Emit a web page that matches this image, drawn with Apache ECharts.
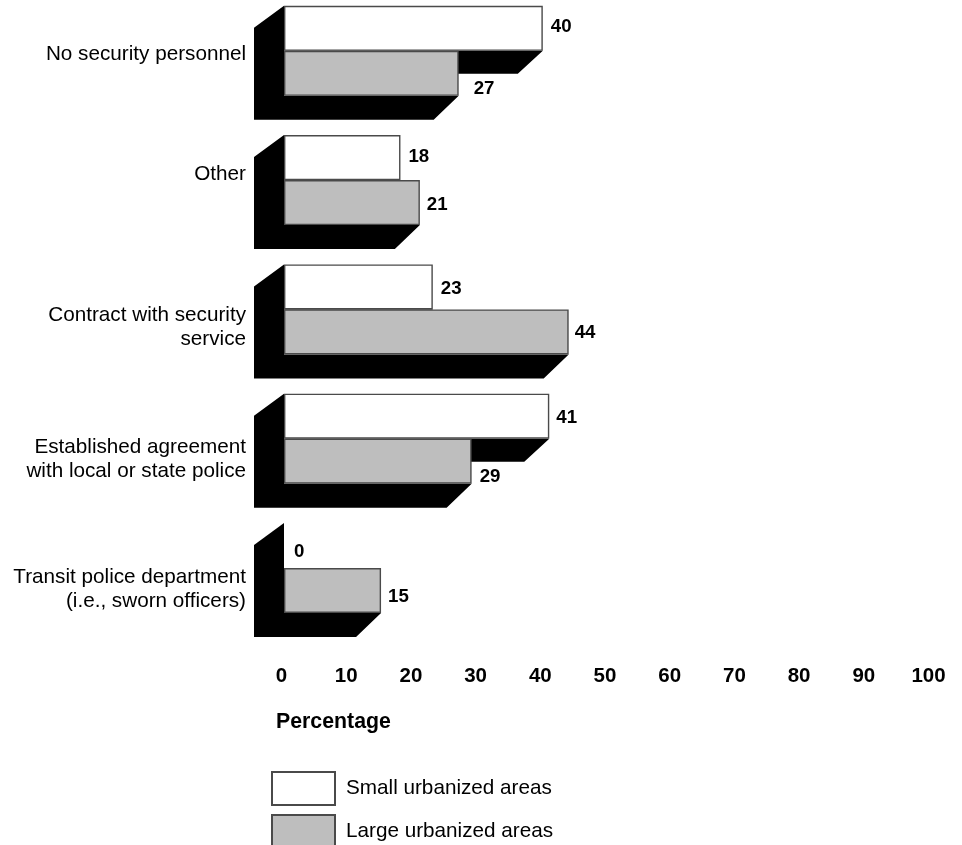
<!DOCTYPE html>
<html>
<head>
<meta charset="utf-8">
<style>html,body{margin:0;padding:0;background:#fff}#c{width:962px;height:845px}</style>
<script src="https://cdn.jsdelivr.net/npm/echarts@6/dist/echarts.min.js"></script>
</head>
<body>
<div id="c"></div>
<script>
const categories = ['No security personnel', 'Other', 'Contract with security\nservice', 'Established agreement\nwith local or state police', 'Transit police department\n(i.e., sworn officers)'];
const smallAreas = [40, 18, 23, 41, 0];
const largeAreas = [27, 21, 44, 29, 15];
const xTicks = [0, 10, 20, 30, 40, 50, 60, 70, 80, 90, 100];

// Style nudges, in pixels
const catLabelShift = [3, -6, 18, 20.5, 21.5];
const smallLabelNudge = [[1, -1], [1, -1], [1, 2], [0, 2], [3, 6]];
const largeLabelNudge = [[8, 16], [0, 2], [-1, 1], [1, 16], [0, 6]];

const FONT = '"Liberation Sans", Arial, sans-serif';
const BAR_H = 45, DEPTH_X = 30, DIAG_X = 25, DIAG_Y = 24;

const chart = echarts.init(document.getElementById('c'));

function shadowItem(params, api) {
  const small = api.value(0), large = api.value(1), idx = api.value(2);
  const x0 = api.coord([0, idx])[0];
  const mid = api.coord([0, idx])[1];
  const xs = api.coord([small, idx])[0];
  const xl = api.coord([large, idx])[0];
  const top = mid - BAR_H, bot = mid + BAR_H;
  const style = { fill: '#000' };
  return {
    type: 'group',
    children: [
      { type: 'polygon', style, shape: { points: [
        [x0, top], [x0 - DEPTH_X, top + 22], [x0 - DEPTH_X, mid + DIAG_Y - 1],
        [Math.max(xs - DIAG_X, x0 - DIAG_X), mid + DIAG_Y - 1], [xs, mid], [x0, mid]
      ] } },
      { type: 'polygon', style, shape: { points: [
        [x0, mid], [x0 - DEPTH_X, mid], [x0 - DEPTH_X, bot + DIAG_Y],
        [xl - DIAG_X, bot + DIAG_Y], [xl, bot], [x0, bot]
      ] } }
    ]
  };
}

const barLabel = { show: true, position: 'right', distance: 7, color: '#000', fontFamily: FONT, fontWeight: 'bold', fontSize: 18.7 };
const barItem = (color) => ({ color, borderColor: '#4a4a4a', borderWidth: 1.4 });
const withLabel = (vals, nudge) => vals.map((v, i) => {
  const item = { value: v, label: { offset: nudge[i] } };
  if (v === 0) item.itemStyle = { borderWidth: 0 };
  return item;
});

// Spacer lines shift a wrapped category label off its band centre.
const catRich = { t: { fontFamily: FONT, fontSize: 20.7, lineHeight: 24, color: '#000', align: 'right' } };
catLabelShift.forEach((s, i) => {
  catRich['sp' + i] = { fontSize: 1, lineHeight: Math.abs(s) * 2 };
});
function catFormatter(value, index) {
  const s = catLabelShift[index];
  const body = value.split('\n').map(l => `{t|${l}}`).join('\n');
  return s >= 0 ? `{sp${index}| }\n${body}` : `${body}\n{sp${index}| }`;
}

chart.setOption({
  animation: false,
  backgroundColor: '#fff',
  title: {
    text: 'Percentage', left: 276, top: 712, padding: 0,
    textStyle: { fontFamily: FONT, fontWeight: 'bold', fontSize: 21.3, color: '#000' }
  },
  legend: {
    orient: 'vertical', left: 271, top: 771, height: 110, padding: 0,
    icon: 'rect', itemWidth: 63, itemHeight: 33, itemGap: 8,
    data: ['Small urbanized areas', 'Large urbanized areas'],
    selectedMode: false,
    textStyle: { fontFamily: FONT, fontSize: 20.7, color: '#000', padding: [0, 0, 0, 6] }
  },
  grid: { left: 284, width: 647, top: -13.85, height: 646.5, outerBoundsMode: 'none' },
  xAxis: {
    type: 'value', min: 0, max: 100, interval: 10,
    axisLine: { show: false }, axisTick: { show: false }, splitLine: { show: false },
    axisLabel: {
      margin: 33, color: '#000', fontFamily: FONT, fontWeight: 'bold', fontSize: 20.5,
      padding: [0, 5, 0, 0], showMinLabel: true, showMaxLabel: true,
      formatter: v => xTicks.includes(v) ? String(v) : ''
    }
  },
  yAxis: {
    type: 'category', inverse: true,
    data: categories,
    axisLine: { show: false }, axisTick: { show: false }, splitLine: { show: false },
    axisLabel: { margin: 38, align: 'right', interval: 0, formatter: catFormatter, rich: catRich }
  },
  series: [
    {
      type: 'custom', name: 'depth', silent: true, z: 1,
      data: smallAreas.map((v, i) => [v, largeAreas[i], i]),
      encode: { x: [0, 1], y: 2 },
      renderItem: shadowItem
    },
    {
      type: 'bar', name: 'Small urbanized areas', z: 2, barWidth: BAR_H, barGap: '0%',
      itemStyle: barItem('#fff'),
      label: barLabel, data: withLabel(smallAreas, smallLabelNudge)
    },
    {
      type: 'bar', name: 'Large urbanized areas', z: 3, barWidth: BAR_H,
      itemStyle: barItem('#bebebe'),
      label: barLabel, data: withLabel(largeAreas, largeLabelNudge)
    }
  ]
});
</script>
</body>
</html>
